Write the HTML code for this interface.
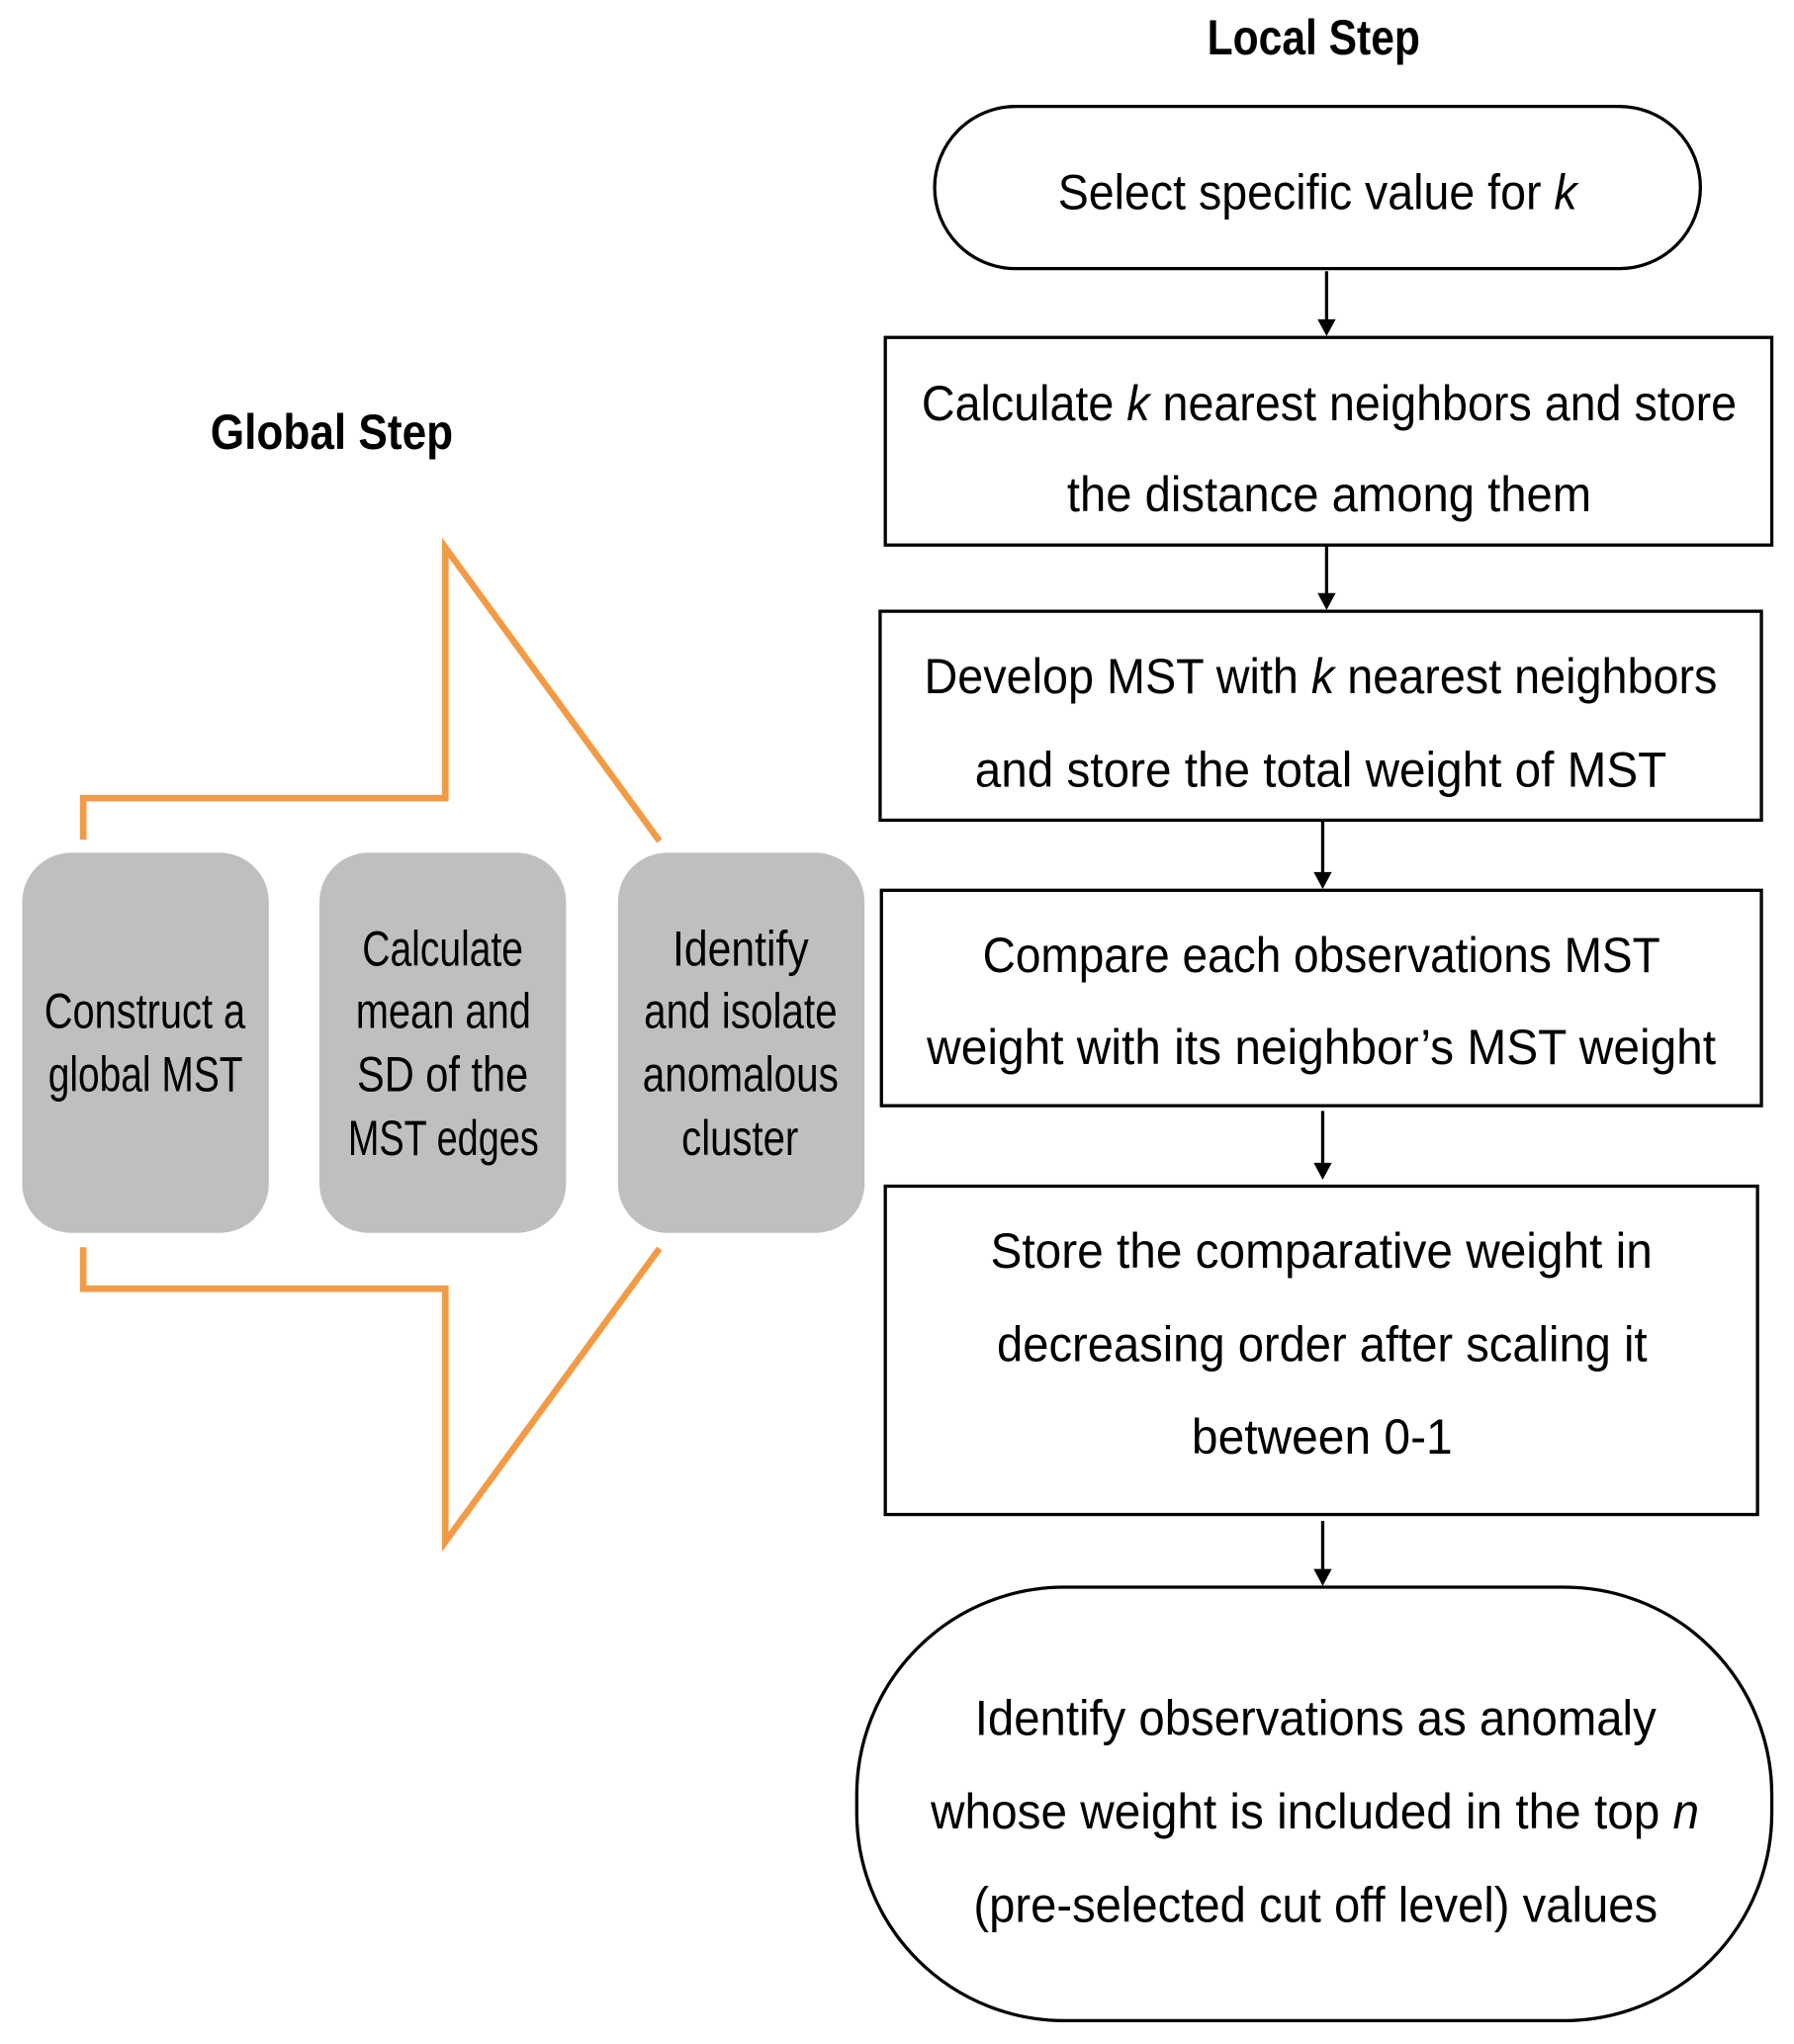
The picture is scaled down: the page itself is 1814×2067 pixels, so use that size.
<!DOCTYPE html>
<html><head><meta charset="utf-8"><style>
html,body{margin:0;padding:0;background:#fff;}
svg{display:block;}
text{font-family:"Liberation Sans",sans-serif;font-size:38px;fill:#000;}
</style></head><body>
<svg width="1814" height="2067" viewBox="0 0 1382 1575" xmlns="http://www.w3.org/2000/svg">
<g fill="none" stroke="#000" stroke-width="2.5">
<rect x="720" y="82" width="590" height="125" rx="62.5"/>
<rect x="682" y="260" width="683" height="160"/>
<rect x="678" y="471" width="679" height="161"/>
<rect x="679" y="686" width="678" height="166"/>
<rect x="682" y="914" width="672" height="253"/>
<rect x="660" y="1223" width="705" height="334" rx="160"/>
<line x1="1022" y1="209" x2="1022" y2="248"/>
<line x1="1022" y1="421" x2="1022" y2="459"/>
<line x1="1019" y1="633" x2="1019" y2="674"/>
<line x1="1019" y1="856" x2="1019" y2="898"/>
<line x1="1019" y1="1172" x2="1019" y2="1211"/>
</g>
<g fill="#000">
<polygon points="1015,246 1029,246 1022,259"/>
<polygon points="1015,457 1029,457 1022,470"/>
<polygon points="1012,672 1026,672 1019,685"/>
<polygon points="1012,896 1026,896 1019,909"/>
<polygon points="1012,1209 1026,1209 1019,1222"/>
</g>
<g fill="none" stroke="#F39A45" stroke-width="5">
<polyline points="64,647 64,615 343,615 343,422 508,648"/>
<polyline points="64,961 64,993 343,993 343,1188 508,962"/>
</g>
<g fill="#BFBFBF">
<rect x="17" y="657" width="190" height="293" rx="38"/>
<rect x="246" y="657" width="190" height="293" rx="38"/>
<rect x="476" y="657" width="190" height="293" rx="38"/>
</g>
<text x="930" y="42" font-weight="bold" textLength="164" lengthAdjust="spacingAndGlyphs">Local Step</text>
<text x="162" y="346" font-weight="bold" textLength="187" lengthAdjust="spacingAndGlyphs">Global Step</text>
<g>
<text x="815" y="161" textLength="400" lengthAdjust="spacingAndGlyphs">Select specific value for <tspan font-style="italic">k</tspan></text>
<text x="710" y="324" textLength="628" lengthAdjust="spacingAndGlyphs">Calculate <tspan font-style="italic">k</tspan> nearest neighbors and store</text>
<text x="822" y="394" textLength="404" lengthAdjust="spacingAndGlyphs">the distance among them</text>
<text x="712" y="534" textLength="611" lengthAdjust="spacingAndGlyphs">Develop MST with <tspan font-style="italic">k</tspan> nearest neighbors</text>
<text x="751" y="606" textLength="533" lengthAdjust="spacingAndGlyphs">and store the total weight of MST</text>
<text x="757" y="749" textLength="522" lengthAdjust="spacingAndGlyphs">Compare each observations MST</text>
<text x="714" y="820" textLength="608" lengthAdjust="spacingAndGlyphs">weight with its neighbor’s MST weight</text>
<text x="763" y="977" textLength="510" lengthAdjust="spacingAndGlyphs">Store the comparative weight in</text>
<text x="768" y="1049" textLength="501" lengthAdjust="spacingAndGlyphs">decreasing order after scaling it</text>
<text x="918" y="1120" textLength="201" lengthAdjust="spacingAndGlyphs">between 0-1</text>
<text x="751" y="1337" textLength="525" lengthAdjust="spacingAndGlyphs">Identify observations as anomaly</text>
<text x="717" y="1409" textLength="592" lengthAdjust="spacingAndGlyphs">whose weight is included in the top <tspan font-style="italic">n</tspan></text>
<text x="750" y="1481" textLength="527" lengthAdjust="spacingAndGlyphs">(pre-selected cut off level) values</text>
</g>
<g style="font-size:35px">
<text x="34" y="792" textLength="155" lengthAdjust="spacingAndGlyphs">Construct a</text>
<text x="37" y="841" textLength="150" lengthAdjust="spacingAndGlyphs">global MST</text>
<text x="279" y="744" textLength="124" lengthAdjust="spacingAndGlyphs">Calculate</text>
<text x="274" y="792" textLength="135" lengthAdjust="spacingAndGlyphs">mean and</text>
<text x="275" y="841" textLength="132" lengthAdjust="spacingAndGlyphs">SD of  the</text>
<text x="268" y="890" textLength="147" lengthAdjust="spacingAndGlyphs">MST edges</text>
<text x="518" y="744" textLength="105" lengthAdjust="spacingAndGlyphs">Identify</text>
<text x="496" y="792" textLength="149" lengthAdjust="spacingAndGlyphs">and isolate</text>
<text x="495" y="841" textLength="151" lengthAdjust="spacingAndGlyphs">anomalous</text>
<text x="525" y="890" textLength="90" lengthAdjust="spacingAndGlyphs">cluster</text>
</g>
</svg>
</body></html>
